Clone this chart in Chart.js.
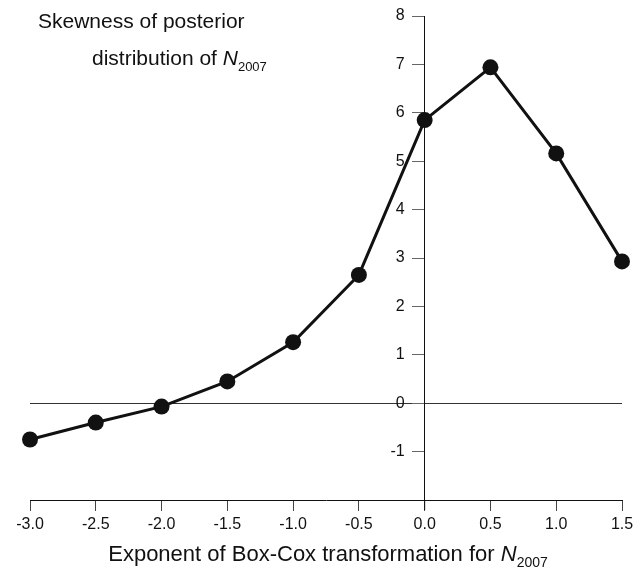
<!DOCTYPE html>
<html>
<head>
<meta charset="utf-8">
<script src="https://cdn.jsdelivr.net/npm/chart.js@4"></script>
<style>
  body { margin: 0; background: #fff; }
  #wrap { width: 644px; height: 573px; }
</style>
</head>
<body>
<div id="wrap"><canvas id="skew"></canvas></div>
<script>
// Box-Cox exponent vs skewness of posterior of N2007
var exponents = [-3.0, -2.5, -2.0, -1.5, -1.0, -0.5, 0.0, 0.5, 1.0, 1.5];
var skewness = [-0.75, -0.4, -0.07, 0.45, 1.26, 2.65, 5.85, 6.94, 5.16, 2.93];
var yTickLabels = [-1, 0, 1, 2, 3, 4, 5, 6, 7, 8];

var FONT = "'Liberation Sans', Arial, sans-serif";

// draw text with an italic N and a subscript
function drawSubText(ctx, x, y, plain, size, subSize) {
    ctx.font = size + "px " + FONT;
    ctx.fillText(plain, x, y);
    x += ctx.measureText(plain).width;
    ctx.font = "italic " + size + "px " + FONT;
    ctx.fillText("N", x, y);
    x += ctx.measureText("N").width;
    ctx.font = subSize + "px " + FONT;
    ctx.fillText("2007", x, y + size * 0.28);
}

var extras = {
    id: "extras",
    afterDraw: function(chart) {
        var ctx = chart.ctx;
        var xs = chart.scales.x;
        var ys = chart.scales.y;
        var area = chart.chartArea;
        ctx.save();
        // y axis sticks out below the x axis
        var x0 = xs.getPixelForValue(0);
        ctx.strokeStyle = "#111";
        ctx.lineWidth = 1;
        ctx.beginPath();
        ctx.moveTo(x0, area.bottom);
        ctx.lineTo(x0, area.bottom + 10);
        ctx.stroke();

        // y tick labels, left of the tick marks on the centred axis
        ctx.fillStyle = "#111";
        ctx.font = "16px " + FONT;
        ctx.textAlign = "right";
        ctx.textBaseline = "middle";
        yTickLabels.forEach(function(v) {
            ctx.fillText(String(v), x0 - 20, ys.getPixelForValue(v));
        });

        ctx.textBaseline = "alphabetic";
        ctx.textAlign = "left";
        ctx.font = "21px " + FONT;
        ctx.fillText("Skewness of posterior", 38, 28);
        drawSubText(ctx, 92, 65, "distribution of ", 21, 13);

        // x axis title, centred
        ctx.font = "22px " + FONT;
        var w = ctx.measureText("Exponent of Box-Cox transformation for ").width;
        ctx.font = "italic 22px " + FONT;
        w += ctx.measureText("N").width;
        ctx.font = "14px " + FONT;
        w += ctx.measureText("2007").width;
        drawSubText(ctx, 328 - w / 2, 561, "Exponent of Box-Cox transformation for ", 22, 14);
        ctx.restore();
    }
};

new Chart("skew", {
    type: "line",
    data: {
        datasets: [{
            data: exponents.map(function(e, i) { return { x: e, y: skewness[i] }; }),
            borderColor: "#111",
            backgroundColor: "#111",
            borderWidth: 3,
            pointRadius: 8,
            pointBackgroundColor: "#111",
            pointBorderWidth: 0,
            tension: 0,
            clip: false
        }]
    },
    options: {
        responsive: true,
        maintainAspectRatio: false,
        animation: false,
        layout: { padding: { left: 30, right: 22, top: 16, bottom: 0 } },
        plugins: {
            legend: { display: false },
            tooltip: { enabled: false }
        },
        scales: {
            x: {
                type: "linear",
                position: "bottom",
                min: -3,
                max: 1.5,
                afterFit: function(scale) { scale.height = 73; },
                ticks: {
                    stepSize: 0.5,
                    color: "#111",
                    padding: 4,
                    font: { family: FONT, size: 16 },
                    maxRotation: 0,
                    callback: function(v) { return Number(v).toFixed(1); }
                },
                grid: {
                    drawOnChartArea: false,
                    drawTicks: true,
                    tickLength: 11,
                    tickColor: "#444"
                },
                border: { display: true, color: "#111", width: 1 }
            },
            y: {
                type: "linear",
                position: { x: 0 },
                min: -2,
                max: 8,
                ticks: {
                    stepSize: 1,
                    display: false
                },
                grid: {
                    drawOnChartArea: true,
                    drawTicks: true,
                    tickLength: 12,
                    tickColor: function(c) { return c.tick && c.tick.value === -2 ? "transparent" : "#666"; },
                    color: function(c) { return c.tick && c.tick.value === 0 ? "#333" : "transparent"; },
                    lineWidth: 1
                },
                border: { display: true, color: "#111", width: 1 }
            }
        }
    },
    plugins: [extras]
});
</script>
</body>
</html>
